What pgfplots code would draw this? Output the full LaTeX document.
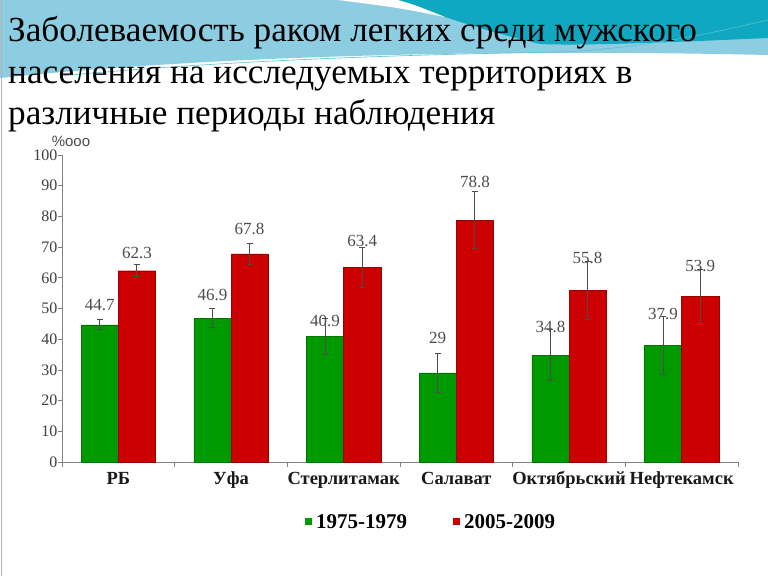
\documentclass[border=0pt]{standalone}
\usepackage{fontspec}
\setmainfont{Liberation Serif}
\newfontfamily\sansf{Liberation Sans}
\usepackage{pgfplots}
\pgfplotsset{compat=1.18}
\usepackage{pgfplotstable}

\definecolor{bargreen}{RGB}{0,153,0}
\definecolor{barred}{RGB}{204,0,0}
\definecolor{lblue}{RGB}{140,205,225}
\definecolor{dteal}{RGB}{15,168,192}
\definecolor{axgray}{RGB}{130,130,130}

\pgfplotstableread{
x y err
0 44.7 1.6
1 46.9 3.1
2 40.9 6.0
3 29.0 6.2
4 34.8 8.3
5 37.9 9.5
}\early
\pgfplotstableread{
x y err
0 62.3 1.9
1 67.8 3.3
2 63.4 6.4
3 78.8 9.2
4 55.8 9.5
5 53.9 8.8
}\late
\pgfplotstableread{
x y label
-0.165 51.1 44.7
0.835 54.4 46.9
1.835 45.8 40.9
2.835 40.3 29
3.835 43.9 34.8
4.835 48.1 37.9
}\earlylab
\pgfplotstableread{
x y label
0.165 68.2 62.3
1.165 75.9 67.8
2.165 72.0 63.4
3.165 91.3 78.8
4.165 66.3 55.8
5.165 63.9 53.9
}\latelab

\begin{document}
\begin{tikzpicture}[x=1pt,y=1pt]
\useasboundingbox (0,0) rectangle (768,576);
\fill[white] (0,0) rectangle (768,576);
% decorative header
\fill[lblue] (0,576) -- (768,576) -- (768,521)
  .. controls (550,526) and (250,524) .. (0,498) -- cycle;
\fill[dteal] (395,576) -- (768,576) -- (768,538)
  .. controls (680,534) and (580,530) .. (540,532)
  .. controls (480,546) and (430,564) .. (395,576) -- cycle;
\fill[white] (338,576) -- (398,576) .. controls (415,571) .. (445,559)
  .. controls (400,568) .. (338,576) -- cycle;
\draw[dteal!70, line width=0.6pt] (60,500) .. controls (250,518) and (450,522) .. (560,524)
  .. controls (650,528) and (720,545) .. (768,556);
\draw[gray!60, line width=1pt] (1.5,0) -- (1.5,576);
% title
\node[anchor=base west, inner sep=0, font=\fontsize{35.2}{40}\selectfont] at (8,534) {Заболеваемость раком легких среди мужского};
\node[anchor=base west, inner sep=0, font=\fontsize{35.2}{40}\selectfont] at (8,492.5) {населения на исследуемых территориях в};
\node[anchor=base west, inner sep=0, font=\fontsize{35.2}{40}\selectfont] at (8,451) {различные периоды наблюдения};
\node[font=\sansf\fontsize{15}{18}\selectfont, text=black!70] at (71,435) {\%ооо};

\begin{axis}[
  at={(62pt,114pt)}, anchor=south west,
  scale only axis, width=676pt, height=307pt,
  xmin=-0.5, xmax=5.5, ymin=0, ymax=100,
  axis x line=bottom, axis y line=left,
  axis line style={-, draw=axgray, line width=0.8pt},
  every outer x axis line/.append style={-},
  every outer y axis line/.append style={-},
  xtick={0,...,5},
  xticklabels={РБ,Уфа,Стерлитамак,Салават,Октябрьский,Нефтекамск},
  major x tick style={draw=none},
  minor xtick={-0.5,0.5,...,5.5},
  minor x tick style={draw=axgray, line width=0.8pt},
  minor tick length=5pt,
  major tick length=4pt,
  tick align=outside,
  ytick={0,10,...,100},
  y tick style={draw=axgray, line width=0.8pt},
  xticklabel style={font=\fontsize{18.5}{22}\selectfont\bfseries, text=black!90,
    anchor=north, text height=12.5pt, text depth=4pt, yshift=-2pt},
  yticklabel style={font=\fontsize{16}{19}\selectfont, text=black!75, xshift=3pt},
  /pgf/number format/assume math mode=true,
  legend style={draw=none, fill=none, at={(0.546,-0.195)}, anchor=center,
    font=\fontsize{21}{25}\selectfont\bfseries,
    /tikz/every even column/.append style={column sep=44pt}},
  legend columns=2,
  legend cell align=left,
]
\addlegendimage{legend image code/.code={\fill[bargreen, draw=none] (0pt,-3.5pt) rectangle (7pt,3.5pt); \path[draw=none, fill=none] (0pt,0pt) -- (9pt,0pt);}}
\addlegendentry{1975-1979}
\addlegendimage{legend image code/.code={\fill[barred, draw=none] (0pt,-3.5pt) rectangle (7pt,3.5pt); \path[draw=none, fill=none] (0pt,0pt) -- (9pt,0pt);}}
\addlegendentry{2005-2009}

\addplot[ybar, bar width=0.33, bar shift=0, fill=bargreen, draw=bargreen!75!black, line width=0.4pt, forget plot,
  error bars/.cd, y dir=both, y explicit, error mark=-,
  error bar style={black!70, line width=0.9pt},
  error mark options={rotate=90, draw=black!70, mark size=3pt, line width=0.9pt}]
  table[x expr=\thisrow{x}-0.165, y=y, y error=err]{\early};
\addplot[ybar, bar width=0.33, bar shift=0, fill=barred, draw=barred!75!black, line width=0.4pt, forget plot,
  error bars/.cd, y dir=both, y explicit, error mark=-,
  error bar style={black!70, line width=0.9pt},
  error mark options={rotate=90, draw=black!70, mark size=3pt, line width=0.9pt}]
  table[x expr=\thisrow{x}+0.165, y=y, y error=err]{\late};

\addplot[draw=none, mark=none, forget plot, nodes near coords, point meta=explicit symbolic,
  nodes near coords style={anchor=center, font=\fontsize{17}{20}\selectfont, text=black!70}]
  table[x=x, y=y, meta=label]{\earlylab};
\addplot[draw=none, mark=none, forget plot, nodes near coords, point meta=explicit symbolic,
  nodes near coords style={anchor=center, font=\fontsize{17}{20}\selectfont, text=black!70}]
  table[x=x, y=y, meta=label]{\latelab};
\end{axis}
\end{tikzpicture}
\end{document}
